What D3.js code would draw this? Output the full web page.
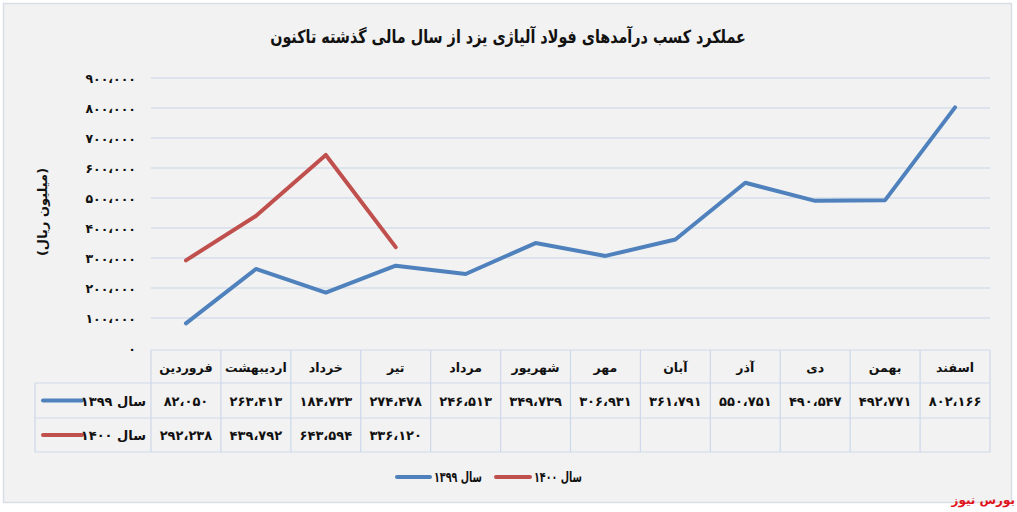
<!DOCTYPE html>
<html><head><meta charset="utf-8">
<script src="https://cdn.jsdelivr.net/npm/d3@7"></script>
<style>
html,body{margin:0;padding:0;background:#fff;}
svg{display:block;font-family:"DejaVu Sans",sans-serif;font-weight:bold;}
</style></head>
<body>
<svg id="c" width="1017" height="512"></svg>
<script>
const title = "عملکرد کسب درآمدهای فولاد آلیاژی یزد از سال مالی گذشته تاکنون";
const yAxisTitle = "(میلیون ریال)";
const months = ["فروردین","اردیبهشت","خرداد","تیر","مرداد","شهریور","مهر","آبان","آذر","دی","بهمن","اسفند"];
const series1399 = [82050,263413,184733,274478,246513,349739,306931,361791,550751,490547,492771,802166];
const series1400 = [292238,439792,643594,336120];
const seriesNames = ["سال ۱۳۹۹","سال ۱۴۰۰"];
const seriesColors = ["#4f81bd","#c0504d"];
const yTicks = [0,100000,200000,300000,400000,500000,600000,700000,800000,900000];
const sourceLabel = "بورس نیوز";

const faDigits = "۰۱۲۳۴۵۶۷۸۹";
const toFa = n => d3.format(",")(n).replace(/,/g,"،").replace(/\d/g, d => faDigits[+d]);

const svg = d3.select("#c");
// background / frame
svg.append("rect").attr("x",3.5).attr("y",3.5).attr("width",1008).attr("height",499)
  .attr("fill","#f2f2f2").attr("stroke","#d9dde6").attr("stroke-width",1.5);

const x = d3.scaleBand().domain(months).range([151,990]);
const y = d3.scaleLinear().domain([0,900000]).range([348,78]);

// place a text so its left edge is at lx, squeezed to at most maxW wide
function fitText(sel, lx, by, maxW){
  const w = sel.node().getComputedTextLength();
  const s = Math.min(1, maxW / w);
  sel.attr("x",0).attr("y",0).attr("text-anchor","start")
     .attr("transform",`translate(${lx},${by}) scale(${s},1)`);
}

// title (fit to reference width)
const tEl = svg.append("text").attr("x",0).attr("y",0).attr("text-anchor","middle")
  .attr("direction","rtl").attr("font-size",18).attr("fill","#111").text(title);
const tw = tEl.node().getComputedTextLength();
const sx = Math.min(1, 476 / tw);
tEl.attr("transform",`translate(508,43) scale(${sx},1)`);

// gridlines
svg.append("g").selectAll("line").data(yTicks.filter(d=>d>0)).join("line")
  .attr("x1",151).attr("x2",990).attr("y1",d=>y(d)).attr("y2",d=>y(d))
  .attr("stroke","#d6deeb").attr("stroke-width",1.5);

// y tick labels
svg.append("g").selectAll("text").data(yTicks).join("text")
  .attr("x",136).attr("y",d=>y(d)+5).attr("text-anchor","end")
  .attr("font-size",12.5).attr("fill","#111").text(d=>toFa(d));

// y axis title
svg.append("text").attr("transform","translate(47,212) rotate(-90)")
  .attr("text-anchor","middle").attr("direction","rtl").attr("font-size",13).attr("fill","#111").text(yAxisTitle);

// data table
const rowTop = [350,383,418,452];
const tg = svg.append("g").attr("stroke","#cdd8ea").attr("stroke-width",1.2).attr("fill","none");
tg.append("line").attr("x1",151).attr("x2",990).attr("y1",rowTop[0]).attr("y2",rowTop[0]);
[1,2,3].forEach(i=>tg.append("line").attr("x1",35).attr("x2",990).attr("y1",rowTop[i]).attr("y2",rowTop[i]));
tg.append("line").attr("x1",35).attr("x2",35).attr("y1",rowTop[1]).attr("y2",rowTop[3]);
months.forEach(m=>tg.append("line").attr("x1",x(m)).attr("x2",x(m)).attr("y1",rowTop[0]).attr("y2",rowTop[3]));
tg.append("line").attr("x1",990).attr("x2",990).attr("y1",rowTop[0]).attr("y2",rowTop[3]);

// header labels
svg.append("g").selectAll("text").data(months).join("text")
  .attr("x",d=>x(d)+x.bandwidth()/2).attr("y",372).attr("text-anchor","middle")
  .attr("direction","rtl").attr("font-size",12.5).attr("fill","#111").text(d=>d);

const allSeries = [series1399, series1400];
allSeries.forEach((s,i)=>{
  const cy = (rowTop[i+1]+rowTop[i+2])/2;
  svg.append("g").selectAll("text").data(s).join("text")
    .attr("x",(d,j)=>x(months[j])+x.bandwidth()/2).attr("y",cy+5).attr("text-anchor","middle")
    .attr("font-size",13).attr("fill","#111").text(d=>toFa(d));
  svg.append("line").attr("x1",43).attr("x2",82).attr("y1",cy).attr("y2",cy)
    .attr("stroke",seriesColors[i]).attr("stroke-width",4).attr("stroke-linecap","round");
  svg.append("text").attr("x",146).attr("y",cy+5).attr("text-anchor","end")
    .attr("font-size",13).attr("fill","#111").text("\u200F"+seriesNames[i]);
});

// lines
const line = d3.line().x((d,j)=>x(months[j])+x.bandwidth()/2).y(d=>y(d));
allSeries.forEach((s,i)=>{
  svg.append("path").datum(s).attr("d",line).attr("fill","none")
    .attr("stroke",seriesColors[i]).attr("stroke-width",4)
    .attr("stroke-linejoin","round").attr("stroke-linecap","round");
});

// bottom legend
const legend = [{i:0,x1:397,x2:430},{i:1,x1:496,x2:530}];
legend.forEach(l=>{
  svg.append("line").attr("x1",l.x1).attr("x2",l.x2).attr("y1",477).attr("y2",477)
    .attr("stroke",seriesColors[l.i]).attr("stroke-width",4).attr("stroke-linecap","round");
  const t = svg.append("text").attr("font-size",14).attr("fill","#111").text(seriesNames[l.i]);
  fitText(t, l.x2+4, 482, 48);
});

// source
svg.append("text").attr("x",1015).attr("y",504).attr("text-anchor","end")
  .attr("font-size",12).attr("fill","#e0141b").text(sourceLabel);
</script>
</body></html>
